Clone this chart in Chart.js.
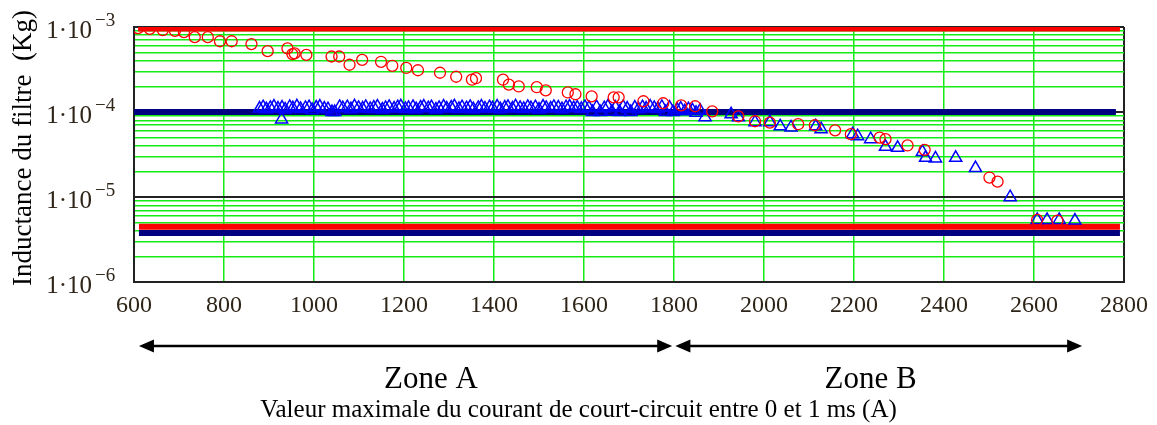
<!DOCTYPE html>
<html>
<head>
<meta charset="utf-8">
<script src="https://cdn.jsdelivr.net/npm/chart.js@4.4.1/dist/chart.umd.min.js"></script>
<style>
html, body { margin: 0; padding: 0; background: #fff; }
canvas { display: block; }
</style>
</head>
<body>
<canvas id="chart" width="1157" height="425"></canvas>
<script>
// red circles
const circleX = [609, 635, 664, 691, 711, 735, 764, 791, 817, 861, 897, 941, 952, 957, 983,
    1039, 1056, 1079, 1107, 1149, 1174, 1205, 1231, 1280, 1316, 1351, 1360, 1420, 1433, 1455,
    1495, 1515, 1564, 1581, 1617, 1666, 1677, 1732, 1776, 1816, 1847, 1885, 1943, 1980, 2013,
    2076, 2113, 2158, 2193, 2257, 2270, 2319, 2357, 2501, 2519, 2607, 2652];
const circleY = [9.7e-4, 9.5e-4, 9.2e-4, 9.0e-4, 8.7e-4, 7.6e-4, 7.6e-4, 6.8e-4, 6.8e-4, 6.3e-4,
    5.2e-4, 5.6e-4, 4.8e-4, 4.9e-4, 4.7e-4, 4.5e-4, 4.5e-4, 3.6e-4, 4.1e-4, 3.9e-4,
    3.5e-4, 3.3e-4, 3.1e-4, 2.9e-4, 2.6e-4, 2.4e-4, 2.5e-4, 2.4e-4, 2.1e-4, 2.0e-4,
    1.96e-4, 1.8e-4, 1.7e-4, 1.62e-4, 1.53e-4, 1.49e-4, 1.49e-4, 1.34e-4, 1.27e-4, 1.2e-4,
    1.17e-4, 1.02e-4, 8.9e-5, 7.8e-5, 7.5e-5, 7.2e-5, 7.0e-5, 6.1e-5, 5.5e-5, 5.0e-5,
    4.8e-5, 4.05e-5, 3.6e-5, 1.7e-5, 1.52e-5, 5.4e-6, 5.3e-6];

// blue triangles, dense part along 1e-4
const denseX = [879, 887, 894, 903, 911, 920, 929, 936, 946, 953,
    962, 970, 981, 989, 996, 1005, 1013, 1023, 1031, 1040,
    1046, 1057, 1064, 1074, 1082, 1090, 1099, 1108, 1115, 1125,
    1133, 1141, 1152, 1159, 1167, 1178, 1186, 1193, 1203, 1210,
    1220, 1227, 1237, 1244, 1254, 1261, 1271, 1278, 1288, 1295,
    1305, 1312, 1322, 1329, 1339, 1347, 1354, 1365, 1372, 1380,
    1390, 1397, 1407, 1414, 1424, 1431, 1441, 1448, 1458, 1466,
    1475, 1482, 1492, 1500, 1509, 1516, 1526, 1533, 1543, 1551,
    1560, 1568, 1577, 1585, 1594, 1602, 1611, 1619, 1628, 1636,
    1645, 1653, 1662, 1670, 1679, 1687, 1696, 1704, 1713, 1721,
    1730, 1738, 1747, 1756, 1764, 1773, 1781, 1790, 1798, 1807,
    1815, 1824, 1832, 1841, 1849, 1858];
const denseY = [1.10e-4, 1.14e-4, 1.08e-4, 1.12e-4, 1.16e-4, 1.10e-4, 1.13e-4, 1.07e-4, 1.15e-4, 1.11e-4,
    1.17e-4, 1.09e-4, 1.12e-4, 1.14e-4, 1.06e-4, 1.13e-4, 1.16e-4, 1.10e-4, 1.08e-4, 1.00e-4,
    1.00e-4, 1.15e-4, 1.11e-4, 1.14e-4, 1.08e-4, 1.17e-4, 1.12e-4, 1.10e-4, 1.15e-4, 1.09e-4,
    1.13e-4, 1.16e-4, 1.07e-4, 1.12e-4, 1.15e-4, 1.10e-4, 1.14e-4, 1.17e-4, 1.09e-4, 1.12e-4,
    1.15e-4, 1.08e-4, 1.13e-4, 1.16e-4, 1.11e-4, 1.14e-4, 1.07e-4, 1.12e-4, 1.16e-4, 1.10e-4,
    1.13e-4, 1.17e-4, 1.09e-4, 1.14e-4, 1.11e-4, 1.15e-4, 1.08e-4, 1.12e-4, 1.16e-4, 1.10e-4,
    1.14e-4, 1.11e-4, 1.16e-4, 1.08e-4, 1.13e-4, 1.15e-4, 1.10e-4, 1.17e-4, 1.12e-4, 1.09e-4,
    1.15e-4, 1.11e-4, 1.14e-4, 1.07e-4, 1.16e-4, 1.12e-4, 1.10e-4, 1.15e-4, 1.13e-4, 1.08e-4,
    1.14e-4, 1.16e-4, 1.11e-4, 1.13e-4, 1.09e-4, 1.15e-4, 1.12e-4, 1.00e-4, 1.14e-4, 1.00e-4,
    1.11e-4, 1.16e-4, 1.01e-4, 1.13e-4, 1.00e-4, 1.15e-4, 1.10e-4, 1.00e-4, 1.13e-4, 1.08e-4,
    1.14e-4, 1.10e-4, 1.16e-4, 1.12e-4, 1.09e-4, 1.15e-4, 1.00e-4, 1.13e-4, 1.00e-4, 1.06e-4,
    1.10e-4, 1.02e-4, 1.08e-4, 1.05e-4, 0.98e-4, 1.04e-4];

// blue triangles, scattered part
const triX = [928, 1869, 1927, 1943, 1980, 2013, 2036, 2060, 2115, 2127, 2197, 2208, 2237,
    2270, 2297, 2352, 2359, 2381, 2426, 2470, 2547, 2607, 2629, 2656, 2691];
const triY = [8.2e-5, 8.7e-5, 9.4e-5, 8.7e-5, 7.6e-5, 7.6e-5, 6.8e-5, 6.6e-5, 6.8e-5, 6.3e-5,
    5.5e-5, 5.2e-5, 4.8e-5, 3.9e-5, 3.8e-5, 3.4e-5, 2.9e-5, 2.85e-5, 2.9e-5, 2.2e-5,
    1.0e-5, 5.4e-6, 5.4e-6, 5.4e-6, 5.3e-6];

// horizontal limit lines: level, start, end
const limitLevels = [9.6e-4, 1.0e-4, 4.5e-6, 3.8e-6];
const limitStart = [609, 600, 611, 611];
const limitEnd = [2791, 2782, 2791, 2791];

// axes
const xTicks = [600, 800, 1000, 1200, 1400, 1600, 1800, 2000, 2200, 2400, 2600, 2800];
const yGrid = [1e-6, 2e-6, 3e-6, 4e-6, 5e-6, 6e-6, 7e-6, 8e-6, 9e-6,
    1e-5, 2e-5, 3e-5, 4e-5, 5e-5, 6e-5, 7e-5, 8e-5, 9e-5,
    1e-4, 2e-4, 3e-4, 4e-4, 5e-4, 6e-4, 7e-4, 8e-4, 9e-4, 1e-3];
const yDecades = [1e-3, 1e-4, 1e-5, 1e-6];
const yTickBase = ["1·10", "1·10", "1·10", "1·10"];
const yTickExp = ["−3", "−4", "−5", "−6"];

// zones under the x axis
const zoneNames = ["Zone A", "Zone B"];
const zoneStart = [611, 1803];
const zoneEnd = [1796, 2707];
const zoneLabelAt = [1260, 2237];

const xTitle = "Valeur maximale du courant de court-circuit entre 0 et 1 ms (A)";
const yTitle = "Inductance du filtre  (Kg)";

const SERIF = '"Liberation Serif", "Times New Roman", serif';
const GREEN = "#14ec14";

function pts(xs, ys) {
    return xs.map((x, i) => ({ x, y: ys[i] }));
}

const limitColors = ["#ff0000", "#000080", "#ff0000", "#000080"];
const limitSets = limitLevels.map((lv, i) => ({
    type: "line",
    data: [{ x: limitStart[i], y: lv }, { x: limitEnd[i], y: lv }],
    borderColor: limitColors[i],
    borderWidth: 6,
    pointRadius: 0,
    fill: false,
    order: 3
}));

const textPlugin = {
    id: "textPlugin",
    afterDraw(chart) {
        const ctx = chart.ctx;
        const xs = chart.scales.x;
        const ys = chart.scales.y;
        ctx.save();
        ctx.fillStyle = "#2e2418";
        ctx.textBaseline = "alphabetic";

        // decade labels 1·10^-n
        yDecades.forEach((v, i) => {
            const py = ys.getPixelForValue(v);
            ctx.font = "25px " + SERIF;
            ctx.textAlign = "right";
            ctx.fillText(yTickBase[i], 92, py + 11);
            ctx.font = "19px " + SERIF;
            ctx.textAlign = "left";
            ctx.fillText(yTickExp[i], 95, py - 1);
        });

        // zone arrows
        ctx.fillStyle = "#000";
        ctx.strokeStyle = "#000";
        ctx.lineWidth = 2.5;
        const ay = 346;
        zoneNames.forEach((name, i) => {
            const x0 = xs.getPixelForValue(zoneStart[i]);
            const x1 = xs.getPixelForValue(zoneEnd[i]);
            ctx.beginPath();
            ctx.moveTo(x0 + 8, ay);
            ctx.lineTo(x1 - 8, ay);
            ctx.stroke();
            [[x0, 1], [x1, -1]].forEach(([tx, d]) => {
                ctx.beginPath();
                ctx.moveTo(tx, ay);
                ctx.lineTo(tx + d * 15, ay - 6.5);
                ctx.lineTo(tx + d * 15, ay + 6.5);
                ctx.closePath();
                ctx.fill();
            });
            ctx.font = "31px " + SERIF;
            ctx.textAlign = "center";
            ctx.fillText(name, xs.getPixelForValue(zoneLabelAt[i]), 388);
        });

        // axis titles
        ctx.font = "25px " + SERIF;
        ctx.textAlign = "center";
        ctx.fillText(xTitle, chart.width / 2, 417);

        ctx.translate(31, 148);
        ctx.rotate(-Math.PI / 2);
        ctx.font = "27px " + SERIF;
        ctx.fillText(yTitle, 0, 0);
        ctx.restore();
    }
};

new Chart(document.getElementById("chart"), {
    type: "scatter",
    data: {
        datasets: [
            {
                label: "circles",
                data: pts(circleX, circleY),
                pointStyle: "circle",
                pointRadius: 5.5,
                borderColor: "#ff0000",
                backgroundColor: "rgba(0,0,0,0)",
                borderWidth: 1.3,
                order: 1
            },
            {
                label: "triangles",
                data: pts(denseX, denseY).concat(pts(triX, triY)),
                pointStyle: "triangle",
                pointRadius: 7,
                borderColor: "#0000ff",
                backgroundColor: "rgba(0,0,0,0)",
                borderWidth: 1.5,
                order: 2
            },
            ...limitSets
        ]
    },
    options: {
        responsive: false,
        animation: false,
        events: [],
        layout: { padding: { left: 134, right: 27, top: 27, bottom: 96 } },
        plugins: { legend: { display: false }, tooltip: { enabled: false } },
        scales: {
            x: {
                type: "linear",
                min: 600,
                max: 2800,
                afterBuildTicks: axis => { axis.ticks = xTicks.map(v => ({ value: v })); },
                ticks: {
                    font: { family: SERIF, size: 24 },
                    color: "#2e2418",
                    padding: 9,
                    maxRotation: 0,
                    autoSkip: false,
                    callback: v => String(v)
                },
                grid: {
                    drawTicks: false,
                    color: c => (c.tick && (c.tick.value === 600 || c.tick.value === 2800)) ? "#222" : GREEN,
                    lineWidth: c => (c.tick && (c.tick.value === 600 || c.tick.value === 2800)) ? 2 : 1.5
                },
                border: { color: "#222", width: 2 }
            },
            y: {
                type: "logarithmic",
                min: 1e-6,
                max: 1e-3,
                afterBuildTicks: axis => { axis.ticks = yGrid.map(v => ({ value: v })); },
                ticks: { display: false },
                grid: {
                    drawTicks: false,
                    color: c => yDecades.includes(c.tick && c.tick.value) ? "#222" : GREEN,
                    lineWidth: c => yDecades.includes(c.tick && c.tick.value) ? 2 : 1.5
                },
                border: { color: "#222", width: 2 }
            }
        }
    },
    plugins: [textPlugin]
});
</script>
</body>
</html>
